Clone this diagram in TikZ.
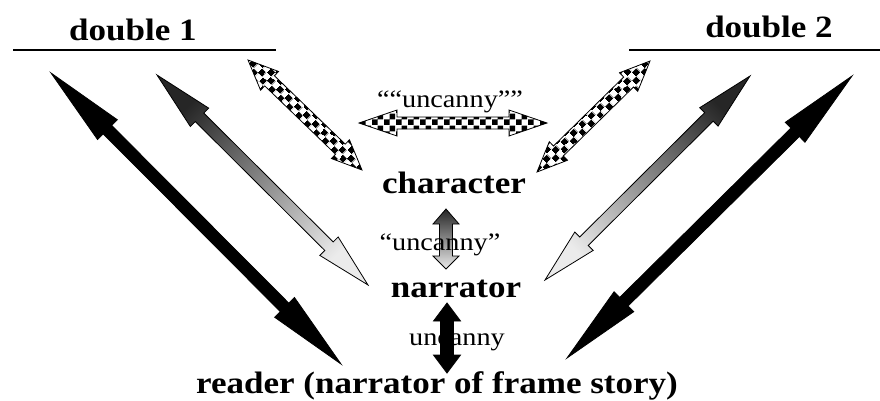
\documentclass[tikz,border=0pt]{standalone}
\usepackage{fontspec}
\setmainfont[FakeStretch=1.13]{Liberation Serif}
\usetikzlibrary{calc,patterns.meta}
\pgfdeclarepattern{
  name=chk,
  type=uncolored,
  parameters={\chkangle},
  bottom left={\pgfpoint{0pt}{0pt}},
  top right={\pgfpoint{12pt}{12pt}},
  tile size={\pgfpoint{12pt}{12pt}},
  tile transformation={\pgftransformrotate{\chkangle}},
  code={
    \pgfpathrectangle{\pgfpoint{0pt}{0pt}}{\pgfpoint{6pt}{6pt}}
    \pgfpathrectangle{\pgfpoint{6pt}{6pt}}{\pgfpoint{6pt}{6pt}}
    \pgfusepath{fill}
  }
}
\tikzset{
  chk angle/.store in=\chkangle, chk angle=0,
  bigtext/.style={font=\fontsize{31}{36}\selectfont\bfseries, inner sep=0pt, anchor=base},
  labtext/.style={font=\fontsize{25}{30}\selectfont, inner sep=0pt, anchor=base},
  blackarrow/.style={draw=black, fill=black, line width=0.8pt, line join=miter},
  grayarrow/.style={draw=black, line width=0.8pt, shading=axis, top color=black!85, bottom color=black!8},
  checkarrow/.style={draw=black, line width=0.8pt, preaction={fill=white}, pattern=chk, pattern color=black},
  rule/.style={line width=1.4pt}
}
% #1 style, #2 start, #3 end, #4 shaft half width, #5 head half width, #6 head length start, #7 head length end
\newcommand\blockarrow[7]{%
  \path[#1] let \p1=(#2), \p2=(#3),
     \n1={atan2(\y2-\y1,\x2-\x1)}, \n2={veclen(\x2-\x1,\y2-\y1)} in
     (\p1)
     -- ($(\p1)+({\n1}:#6)+({\n1+90}:#5)$)
     -- ($(\p1)+({\n1}:#6)+({\n1+90}:#4)$)
     -- ($(\p1)+({\n1}:{\n2-#7})+({\n1+90}:#4)$)
     -- ($(\p1)+({\n1}:{\n2-#7})+({\n1+90}:#5)$)
     -- (\p2)
     -- ($(\p1)+({\n1}:{\n2-#7})+({\n1-90}:#5)$)
     -- ($(\p1)+({\n1}:{\n2-#7})+({\n1-90}:#4)$)
     -- ($(\p1)+({\n1}:#6)+({\n1-90}:#4)$)
     -- ($(\p1)+({\n1}:#6)+({\n1-90}:#5)$)
     -- cycle;%
}
\begin{document}
\begin{tikzpicture}[x=1pt,y=1pt]
\useasboundingbox (0,0) rectangle (880,-400);

% text nodes
\node[bigtext] (d1) at (133,-40) {double 1};
\node[bigtext] (d2) at (769,-37) {double 2};
\node[bigtext] (ch) at (454,-193) {character};
\node[bigtext] (na) at (456,-297) {narrator};
\node[bigtext] (re) at (437,-393) {reader (narrator of frame story)};

% rules under doubles
\coordinate (l1a) at (13,-50);
\coordinate (l1b) at (276,-50);
\coordinate (l2a) at (629,-50);
\coordinate (l2b) at (880,-50);
\draw[rule] (l1a) -- (l1b);
\draw[rule] (l2a) -- (l2b);

% arrow end points
\coordinate (bl1) at (51,-73);   \coordinate (bl2) at (341,-364);
\coordinate (gl1) at (157,-75);  \coordinate (gl2) at (368,-285);
\coordinate (cl1) at (248,-60);  \coordinate (cl2) at (362,-170);
\coordinate (cr1) at (650,-61);  \coordinate (cr2) at (537,-172);
\coordinate (gr1) at (750,-76);  \coordinate (gr2) at (545,-280);
\coordinate (br1) at (852,-76);  \coordinate (br2) at (567,-358);
\coordinate (h1) at (359,-123);  \coordinate (h2) at (547,-123);
\coordinate (v1) at (446,-209);  \coordinate (v2) at (446,-269);
\coordinate (w1) at (447,-303);  \coordinate (w2) at (447,-373);

\blockarrow{blackarrow}{bl1}{bl2}{6}{14}{80}{80}
\blockarrow{blackarrow}{br1}{br2}{6}{14}{80}{80}
\blockarrow{grayarrow, shading angle=45}{gl1}{gl2}{6}{13}{60}{55}
\blockarrow{grayarrow, shading angle=-45}{gr1}{gr2}{6}{13}{58}{55}
\blockarrow{checkarrow, chk angle=-44}{cl1}{cl2}{7}{13}{30}{30}
\blockarrow{checkarrow, chk angle=44}{cr1}{cr2}{7}{13}{30}{30}
\blockarrow{checkarrow, chk angle=0}{h1}{h2}{6}{13}{38}{38}
\blockarrow{grayarrow}{v1}{v2}{6.5}{13}{15}{13}
\blockarrow{blackarrow}{w1}{w2}{6.5}{13.5}{18}{18}

% labels
\node[labtext] (u1) at (450,-107) {““uncanny””};
\node[labtext] (u2) at (440,-250) {“uncanny”};
\node[labtext] (u3) at (457,-345) {uncanny};
\end{tikzpicture}
\end{document}
